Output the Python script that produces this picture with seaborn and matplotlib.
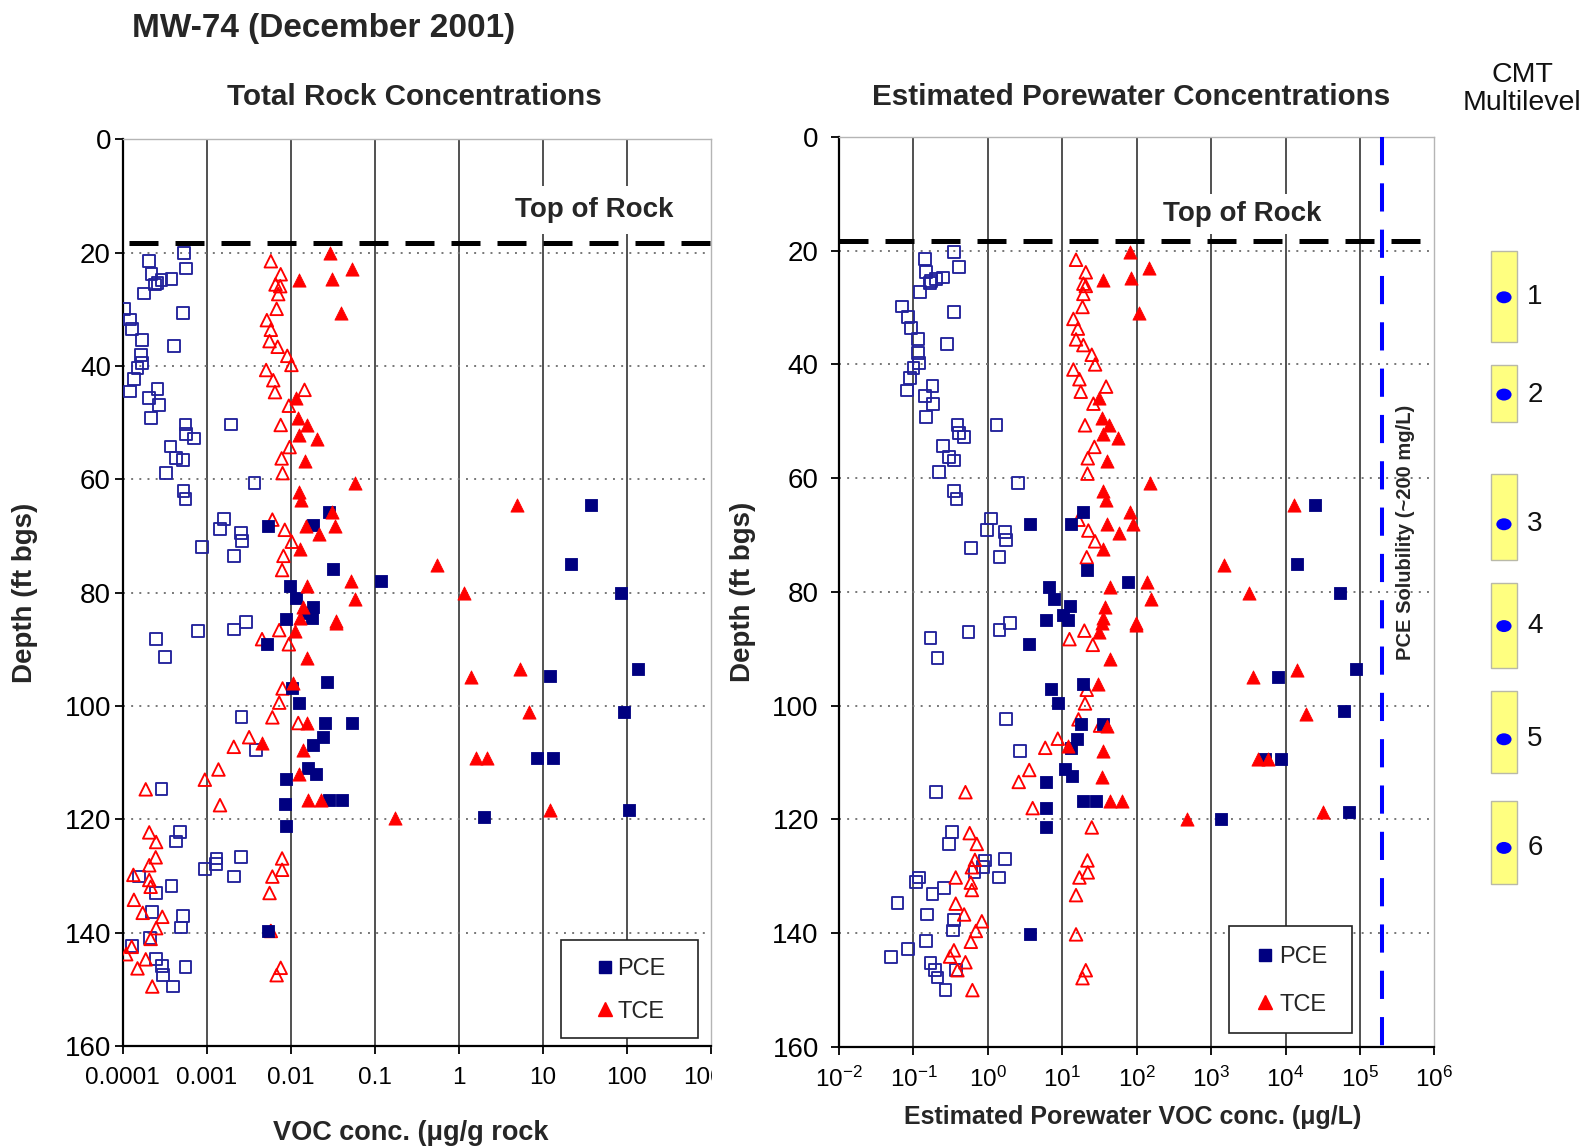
import numpy as np
import matplotlib
matplotlib.use("Agg")
import matplotlib.pyplot as plt
import seaborn as sns
from matplotlib.patches import Rectangle, Ellipse
from matplotlib.lines import Line2D
from matplotlib.ticker import FixedLocator, FixedFormatter, NullLocator, LogFormatterMathtext
from matplotlib.transforms import Bbox, TransformedBbox

# ---------------------------------------------------------------------------
# MW-74, December 2001 -- rock core VOC data (depth in ft bgs)
# Total rock concentrations, ug/g rock
# ---------------------------------------------------------------------------
rock_pce_depth = [64.5, 65.7, 68.1, 68.2, 75.0, 75.9, 77.9, 78.9, 80.0, 81.0, 82.5, 83.6, 84.5, 84.7,
                  89.1, 93.5, 94.7, 95.8, 96.9, 99.4, 101.1, 103.0, 103.0, 105.4, 106.9, 109.1, 109.1,
                  111.0, 112.0, 112.9, 116.6, 116.6, 117.3, 118.3, 119.6, 121.1, 139.7]
rock_pce = [38, 0.0288, 0.0186, 0.0054, 21.5, 0.032, 0.12, 0.0099, 85, 0.0115, 0.0186, 0.0155, 0.0181,
            0.0087, 0.0052, 138, 12.2, 0.0273, 0.0103, 0.0127, 94, 0.0256, 0.054, 0.0245, 0.0186, 8.5,
            13.2, 0.0162, 0.0199, 0.0088, 0.0286, 0.041, 0.0086, 106, 2.0, 0.0088, 0.0054]

rock_pce_open_depth = [20.1, 21.4, 22.8, 23.8, 24.6, 24.8, 25.3, 25.6, 27.2, 29.9, 30.6, 31.8, 33.5, 35.4,
                       36.5, 38.1, 39.5, 40.4, 42.3, 44.0, 44.5, 45.7, 46.9, 49.1, 50.3, 50.3, 52.0, 52.8,
                       54.2, 56.2, 56.6, 58.9, 60.6, 62.0, 63.4, 67.0, 68.8, 69.5, 70.9, 72.0, 73.5, 85.2,
                       86.5, 86.7, 88.2, 91.3, 102.0, 107.8, 114.7, 122.3, 123.9, 126.6, 126.9, 127.9,
                       128.8, 130.1, 130.1, 131.7, 133.0, 136.4, 137.1, 139.1, 140.9, 142.4, 144.6, 145.9,
                       146.1, 147.5, 149.5]
rock_pce_open = [0.00054, 0.000206, 0.00057, 0.00022, 0.00038, 0.00029, 0.00026, 0.00024, 0.00018,
                 0.000105, 0.00052, 0.000122, 0.00013, 0.00017, 0.00041, 0.000165, 0.00017, 0.00015,
                 0.000136, 0.00026, 0.000122, 0.000207, 0.00027, 0.000215, 0.00193, 0.00056, 0.00057,
                 0.00071, 0.00037, 0.00043, 0.00052, 0.00033, 0.0037, 0.00053, 0.00056, 0.0016, 0.00144,
                 0.00256, 0.00266, 0.00088, 0.0021, 0.00294, 0.0021, 0.00078, 0.00025, 0.00032, 0.0026,
                 0.0039, 0.00029, 0.00048, 0.00043, 0.00254, 0.00131, 0.00129, 0.00095, 0.0021, 0.000156,
                 0.00038, 0.00025, 0.000225, 0.00052, 0.00049, 0.00021, 0.000128, 0.000247, 0.000296,
                 0.00056, 0.000305, 0.0004]

rock_tce_depth = [20.1, 22.8, 24.6, 24.8, 30.7, 45.7, 49.2, 50.4, 52.2, 52.9, 56.7, 60.7, 62.2, 63.6,
                  64.6, 65.7, 68.2, 68.2, 69.7, 72.2, 75.1, 77.9, 78.9, 80.0, 81.2, 82.6, 84.4, 85.0,
                  85.4, 86.8, 91.5, 93.5, 94.8, 95.9, 101.1, 103.0, 106.6, 107.8, 109.1, 109.1, 112.0,
                  116.6, 116.6, 118.3, 119.7]
rock_tce = [0.0294, 0.053, 0.031, 0.0127, 0.040, 0.0116, 0.0123, 0.0158, 0.0127, 0.0204, 0.0148, 0.058,
            0.0127, 0.0133, 4.9, 0.031, 0.0152, 0.034, 0.022, 0.0129, 0.55, 0.052, 0.0158, 1.17, 0.058,
            0.0139, 0.0129, 0.0343, 0.035, 0.0112, 0.0155, 5.3, 1.40, 0.0106, 6.9, 0.0155, 0.0045,
            0.0139, 1.59, 2.19, 0.0126, 0.0162, 0.0228, 12.2, 0.175]

rock_tce_open_depth = [21.5, 23.8, 25.6, 25.9, 27.3, 29.9, 31.9, 33.6, 35.6, 36.6, 38.2, 39.8, 40.7, 42.5,
                       44.2, 44.6, 47.0, 50.4, 54.3, 56.3, 58.9, 67.1, 68.9, 71.0, 73.5, 76.0, 86.6, 88.2,
                       89.1, 96.9, 99.4, 102.0, 103.0, 105.5, 107.2, 111.2, 113.0, 114.7, 117.5, 122.3,
                       124.0, 126.7, 126.9, 128.1, 128.9, 129.8, 130.1, 130.7, 131.9, 133.0, 134.2, 136.5,
                       137.2, 139.2, 139.7, 141.1, 142.5, 143.8, 144.7, 146.2, 146.3, 147.5, 149.5]
rock_tce_open = [0.0058, 0.0076, 0.0066, 0.0075, 0.0071, 0.0068, 0.0052, 0.0058, 0.0056, 0.0070, 0.0091,
                 0.0102, 0.0051, 0.0062, 0.0146, 0.0065, 0.0095, 0.0076, 0.0097, 0.0078, 0.0080, 0.00605,
                 0.0085, 0.0103, 0.0082, 0.0079, 0.0073, 0.00456, 0.0095, 0.0080, 0.0073, 0.00605, 0.0123,
                 0.0032, 0.0021, 0.00138, 0.00095, 0.000188, 0.00144, 0.000207, 0.00025, 0.000247, 0.0079,
                 0.000207, 0.0079, 0.000134, 0.00605, 0.000207, 0.000215, 0.0056, 0.000136, 0.000173,
                 0.000296, 0.00025, 0.0058, 0.000215, 0.000128, 0.00011, 0.000188, 0.0076, 0.00015,
                 0.0068, 0.000225]

# ---------------------------------------------------------------------------
# Estimated porewater concentrations, ug/L
# ---------------------------------------------------------------------------
pore_pce_depth = [64.7, 65.9, 68.1, 68.1, 75.0, 76.2, 78.3, 79.1, 80.1, 81.3, 82.5, 84.0, 84.9, 84.9,
                  89.2, 93.6, 95.0, 96.1, 97.1, 99.6, 101.0, 103.3, 103.3, 105.8, 107.4, 109.3, 109.3,
                  111.2, 112.4, 113.4, 116.8, 116.8, 117.9, 118.6, 119.9, 121.4, 140.2]
pore_pce = [25000, 19.2, 3.7, 13.0, 14150, 21.8, 77.4, 6.7, 54200, 7.8, 12.7, 10.1, 12.1, 6.0, 3.6,
            88100, 8040, 18.7, 7.1, 8.7, 61400, 17.7, 35.7, 16.0, 13.0, 5320, 8730, 10.9, 13.7, 6.0,
            19.2, 28.4, 6.0, 70200, 1350, 6.0, 3.7]

pore_pce_open_depth = [20.2, 21.5, 22.9, 23.8, 24.7, 25.0, 25.4, 25.7, 27.3, 29.8, 30.8, 31.7, 33.6, 35.5,
                       36.4, 38.0, 39.7, 40.6, 42.4, 43.8, 44.6, 45.6, 46.9, 49.3, 50.6, 50.6, 52.1, 52.7,
                       54.3, 56.3, 56.9, 58.9, 60.8, 62.2, 63.6, 67.1, 69.1, 69.5, 70.9, 72.3, 73.8, 85.5,
                       86.7, 87.0, 88.1, 91.6, 102.3, 107.9, 115.2, 122.2, 124.3, 127.0, 127.2, 128.4,
                       129.3, 130.2, 130.2, 131.0, 132.1, 133.1, 134.7, 136.7, 137.7, 139.5, 141.4, 142.8,
                       144.2, 145.2, 146.4, 146.5, 147.8, 150.0]
pore_pce_open = [0.35, 0.142, 0.41, 0.148, 0.247, 0.20, 0.172, 0.167, 0.123, 0.071, 0.35, 0.084, 0.092,
                 0.114, 0.286, 0.114, 0.119, 0.10, 0.09, 0.18, 0.081, 0.142, 0.185, 0.148, 1.31, 0.39,
                 0.41, 0.48, 0.25, 0.30, 0.35, 0.22, 2.52, 0.35, 0.38, 1.09, 0.97, 1.7, 1.76, 0.59, 1.43,
                 1.99, 1.43, 0.55, 0.17, 0.21, 1.76, 2.71, 0.20, 0.33, 0.30, 1.7, 0.92, 0.87, 0.66, 1.41,
                 0.119, 0.107, 0.26, 0.18, 0.061, 0.154, 0.35, 0.34, 0.146, 0.084, 0.05, 0.17, 0.37,
                 0.195, 0.21, 0.27]

pore_tce_depth = [20.3, 23.0, 24.8, 25.1, 30.9, 45.9, 49.5, 50.7, 52.3, 53.0, 57.0, 60.8, 62.3, 63.9,
                  64.8, 65.9, 68.1, 68.1, 69.7, 72.4, 75.2, 78.3, 79.1, 80.2, 81.3, 82.6, 84.5, 85.4,
                  85.4, 85.8, 87.1, 91.8, 93.8, 95.0, 96.1, 101.4, 103.5, 107.0, 108.0, 109.3, 109.3,
                  112.5, 116.8, 116.8, 118.6, 119.9]
pore_tce = [81.5, 148, 83, 35, 109, 31.6, 34, 43, 35, 56.8, 40.5, 151, 35, 38.4, 13000, 81.5, 39.6, 88,
            58.6, 35, 1470, 139, 43.9, 3180, 156, 37.6, 35, 34, 97.5, 97.5, 31.6, 43.9, 14150, 3630, 30,
            18900, 40.5, 12.1, 35.7, 4320, 5900, 34, 43.9, 63, 31600, 471]

pore_tce_open_depth = [21.6, 23.8, 25.8, 26.2, 27.6, 29.9, 32.0, 33.7, 35.6, 36.6, 38.3, 40.0, 40.9, 42.6,
                       43.9, 44.8, 46.9, 50.7, 54.5, 56.5, 59.2, 67.3, 69.2, 71.1, 73.9, 86.8, 88.3, 89.3,
                       97.2, 99.6, 102.4, 103.5, 105.8, 107.4, 111.3, 113.4, 115.2, 118.0, 121.4, 122.4,
                       124.3, 127.1, 127.2, 128.4, 129.3, 130.2, 130.2, 131.1, 132.4, 133.3, 134.8, 136.7,
                       137.9, 139.6, 140.2, 141.5, 143.0, 144.1, 145.1, 146.5, 146.5, 147.9, 150.0]
pore_tce_open = [15.3, 20.7, 19.2, 20.7, 19.2, 18.7, 14.1, 16.2, 15.3, 19.2, 24.9, 27.6, 14.1, 17.0, 38.8,
                 17.7, 26.2, 20.2, 27.0, 22.0, 21.8, 16.5, 22.4, 27.6, 21.3, 19.8, 12.5, 25.7, 21.3, 20.2,
                 16.5, 32.2, 8.7, 5.9, 3.6, 2.6, 0.50, 4.0, 24.9, 0.57, 0.71, 0.67, 21.8, 0.61, 22.0, 17.0,
                 0.37, 0.59, 0.61, 15.3, 0.37, 0.48, 0.83, 0.69, 15.3, 0.59, 0.35, 0.31, 0.50, 0.39, 20.7,
                 18.7, 0.62]

# Reference levels and CMT multilevel port intervals (ft bgs)
top_of_rock_ft = 18.3
pce_solubility_ugL = 2.0e5
cmt_ports = [1, 2, 3, 4, 5, 6]
cmt_top = [20.0, 40.1, 59.2, 78.4, 97.5, 116.7]
cmt_bottom = [36.0, 50.1, 74.3, 93.4, 111.9, 131.3]
cmt_port_depth = [28.2, 45.3, 68.1, 86.0, 105.9, 125.0]

depth_ticks = [0, 20, 40, 60, 80, 100, 120, 140, 160]
rock_ticks = [1e-4, 1e-3, 1e-2, 1e-1, 1, 10, 100, 1000]
rock_tick_labels = ["0.0001", "0.001", "0.01", "0.1", "1", "10", "100", "1000"]
pore_ticks = [1e-2, 1e-1, 1e0, 1e1, 1e2, 1e3, 1e4, 1e5, 1e6]

NAVY = "#000080"
OPEN_BLUE = "#23239b"
RED = "#ff0000"

sns.set_theme(style="white")
plt.rcParams["font.family"] = ["Liberation Sans", "DejaVu Sans"]
plt.rcParams["mathtext.fontset"] = "custom"
plt.rcParams["mathtext.rm"] = "Liberation Sans"
plt.rcParams["mathtext.it"] = "Liberation Sans:italic"
plt.rcParams["mathtext.bf"] = "Liberation Sans:bold"

W, H = 1585, 1147
fig = plt.figure(figsize=(W / 100, H / 100), dpi=100, facecolor="white")


def fx(px):
    return px / W


def fy(py):
    return 1 - py / H


ax_rock = fig.add_axes([fx(122.7), fy(1046.0), fx(710.7) - fx(122.7), fy(139.4) - fy(1046.0)])
ax_pore = fig.add_axes([fx(839.0), fy(1047.0), fx(1434.4) - fx(839.0), fy(136.9) - fy(1047.0)])
ax_cmt = fig.add_axes([fx(1440.0), fy(1047.0), fx(1585.0) - fx(1440.0), fy(136.9) - fy(1047.0)])


def draw_points(ax, conc, depth, marker, color, filled, size):
    if filled:
        sns.scatterplot(x=conc, y=depth, ax=ax, marker=marker, s=size, color=color,
                        edgecolor=color, linewidth=0.6, zorder=5, legend=False)
    else:
        sns.scatterplot(x=conc, y=depth, ax=ax, marker=marker, s=size, facecolor="none",
                        edgecolor=color, linewidth=1.35, zorder=4, legend=False)


def frame_axes(ax, ticks, ytick_pad, xtick_pad):
    ax.set_xscale("log")
    ax.set_xlim(ticks[0], ticks[-1])
    ax.set_ylim(160, 0)
    ax.xaxis.set_major_locator(FixedLocator(ticks))
    ax.xaxis.set_minor_locator(NullLocator())
    ax.set_yticks(depth_ticks)
    ax.set_yticklabels([str(d) for d in depth_ticks])
    for d in ticks[1:-1]:
        ax.axvline(d, color="#333333", lw=1.2, zorder=1)
    for d in depth_ticks[1:-1]:
        ax.axhline(d, color="#777777", lw=1.4, ls=(0, (1, 3.2)), zorder=1)
    for side in ("left", "bottom"):
        ax.spines[side].set_color("black")
        ax.spines[side].set_linewidth(1.6)
    for side in ("top", "right"):
        ax.spines[side].set_color("#b5b5b5")
        ax.spines[side].set_linewidth(1.0)
    ax.tick_params(axis="y", which="major", direction="out", left=True, length=5.5, width=1.3,
                   color="black", labelsize=20, pad=ytick_pad, labelcolor="black")
    ax.tick_params(axis="x", which="major", direction="out", bottom=True, length=6, width=1.3,
                   color="black", labelsize=17.5, pad=xtick_pad, labelcolor="black")
    ax.set_facecolor("white")


# ---------------- Total rock concentrations ----------------
ax = ax_rock
ax.set_xscale("log")
draw_points(ax, rock_pce_open, rock_pce_open_depth, "s", OPEN_BLUE, False, 72)
draw_points(ax, rock_tce_open, rock_tce_open_depth, "^", RED, False, 82)
draw_points(ax, rock_pce, rock_pce_depth, "s", NAVY, True, 84)
draw_points(ax, rock_tce, rock_tce_depth, "^", RED, True, 90)
frame_axes(ax, rock_ticks, 3.0, 9)
ax.xaxis.set_major_formatter(FixedFormatter(rock_tick_labels))
ax.axhline(top_of_rock_ft, color="black", lw=3.6, ls=(8.0, (5.8, 3.4)), zorder=3)
ax.text(40.8, 12.5, "Top of Rock", ha="center", va="center", fontsize=20, fontweight="bold",
        bbox=dict(facecolor="white", edgecolor="none", pad=8), zorder=2)
ax.set_title("Total Rock Concentrations", fontsize=21.3, fontweight="bold", y=1.038, va="center")
ax.title.set_x(0.4965)
ax.set_xlabel("VOC conc. (\u03bcg/g rock", fontsize=19.5, fontweight="bold")
ax.xaxis.label.set_va("center")
ax.xaxis.set_label_coords(0.4905, (1046 - 1133) / 906.6)
ax.set_ylabel("Depth (ft bgs)", fontsize=20, fontweight="bold")
ax.yaxis.label.set_va("center")
ax.yaxis.set_label_coords((25.3 - 122.7) / 588.0, 0.5)

# the last decade label runs into the plot edge and is cut there
last_tick = ax.xaxis.get_major_ticks()[-1]
last_tick.label1.set_clip_on(True)
last_tick.label1.set_clip_box(TransformedBbox(Bbox.from_extents(0, 0, fx(711.5), 1), fig.transFigure))

# ---------------- Estimated porewater concentrations ----------------
ax = ax_pore
ax.set_xscale("log")
draw_points(ax, pore_pce_open, pore_pce_open_depth, "s", OPEN_BLUE, False, 72)
draw_points(ax, pore_tce_open, pore_tce_open_depth, "^", RED, False, 82)
draw_points(ax, pore_pce, pore_pce_depth, "s", NAVY, True, 84)
draw_points(ax, pore_tce, pore_tce_depth, "^", RED, True, 90)
frame_axes(ax, pore_ticks, 9.0, 8)
ax.xaxis.set_major_formatter(LogFormatterMathtext())
ax.axhline(top_of_rock_ft, color="black", lw=3.6, ls=(0, (5.8, 3.4)), zorder=3)
ax.plot([pce_solubility_ugL, pce_solubility_ugL], [0, 160], color="#0000ff", lw=2.9,
        ls=(0, (7.0, 4.5)), zorder=3)
ax.text(2610, 13.6, "Top of Rock", ha="center", va="center", fontsize=20, fontweight="bold",
        bbox=dict(facecolor="white", edgecolor="none", pad=5), zorder=2)
ax.text(4.1e5, 69.5, "PCE Solubility (~200 mg/L)", rotation=90, ha="center", va="center",
        fontsize=14.5, fontweight="bold", zorder=6)
ax.set_title("Estimated Porewater Concentrations", fontsize=21.3, fontweight="bold", y=1.0345, va="center")
ax.title.set_x(0.491)
ax.set_xlabel("Estimated Porewater VOC conc. (\u03bcg/L)", fontsize=18, fontweight="bold")
ax.xaxis.label.set_va("center")
ax.xaxis.set_label_coords(0.494, (1047 - 1117) / 910.1)
ax.set_ylabel("Depth (ft bgs)", fontsize=20, fontweight="bold")
ax.yaxis.label.set_va("center")
ax.yaxis.set_label_coords((743.0 - 839.0) / 595.4, 0.5)

# ---------------- legends ----------------
legend_handles = [
    Line2D([], [], marker="s", color=NAVY, linestyle="none", markersize=8.5),
    Line2D([], [], marker="^", color=RED, linestyle="none", markersize=10),
]
for axx, (bx0, by0, bx1, by1), (mx, my), spacing, tpad in [
    (ax_rock, (561, 940, 697.5, 1038), (598.4, 990.4), 0.86, 0.2),
    (ax_pore, (1228.8, 926, 1351.5, 1033), (1257.9, 980.9), 1.08, 0.3),
]:
    axx.add_patch(Rectangle((fx(bx0), fy(by1)), fx(bx1) - fx(bx0), fy(by0) - fy(by1),
                            transform=fig.transFigure, facecolor="white", edgecolor="#222222",
                            lw=1.2, clip_on=False, zorder=6))
    leg = axx.legend(legend_handles, ["PCE", "TCE"], loc="center left",
                     bbox_to_anchor=(fx(mx), fy(my)), bbox_transform=fig.transFigure,
                     frameon=False, fontsize=17, handlelength=0.6, handletextpad=tpad,
                     labelspacing=spacing, borderpad=0, borderaxespad=0)
    leg.set_zorder(7)

# ---------------- CMT multilevel column ----------------
ax = ax_cmt
ax.set_xlim(0, 1)
ax.set_ylim(160, 0)
ax.axis("off")
for port, top, bot, pdep in zip(cmt_ports, cmt_top, cmt_bottom, cmt_port_depth):
    ax.add_patch(Rectangle((0.352, top), 0.179, bot - top, facecolor="#ffff80",
                           edgecolor="#b9b9a8", lw=1.0))
    ax.add_patch(Ellipse((0.441, pdep), 0.105, 2.1, facecolor="#0000ff", edgecolor="none"))
    ax.text(0.655, pdep, str(port), ha="center", va="center", fontsize=20, color="#111111")

fig.text(fx(1522), fy(89), "CMT\nMultilevel", ha="center", va="center", fontsize=20.5,
         linespacing=1.1, color="#111111")
fig.text(fx(131.5), fy(28), "MW-74 (December 2001)", ha="left", va="center", fontsize=24,
         fontweight="bold")

fig.savefig("out.png", dpi=100, facecolor="white")
